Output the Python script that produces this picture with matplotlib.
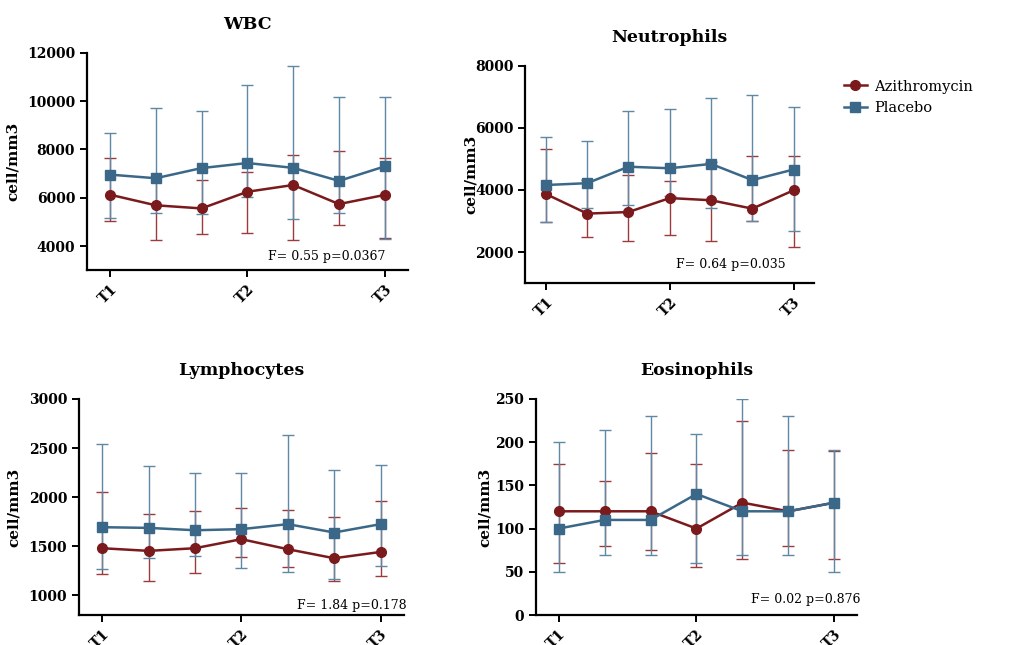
import matplotlib
matplotlib.use("Agg")
import matplotlib.pyplot as plt
from matplotlib.lines import Line2D

# time points (7 visits, only T1/T2/T3 labelled)
visits = [0, 1, 2, 3, 4, 5, 6]
tick_pos = [0, 3, 6]
tick_labels = ["T1", "T2", "T3"]

# WBC
wbc_azi = [6130, 5690, 5560, 6250, 6530, 5740, 6120]
wbc_azi_lo = [5050, 4250, 4520, 4530, 4250, 4880, 4350]
wbc_azi_hi = [7630, 6850, 6740, 7060, 7760, 7950, 7630]
wbc_pla = [6960, 6810, 7230, 7440, 7240, 6700, 7300]
wbc_pla_lo = [5180, 5380, 5320, 6020, 5140, 5380, 4280]
wbc_pla_hi = [8690, 9700, 9590, 10650, 11460, 10190, 10190]

# Neutrophils
neu_azi = [3870, 3240, 3290, 3740, 3670, 3400, 3990]
neu_azi_lo = [2960, 2500, 2370, 2550, 2350, 3000, 2160]
neu_azi_hi = [5320, 4330, 4480, 4280, 4900, 5090, 5090]
neu_pla = [4160, 4220, 4750, 4700, 4840, 4320, 4660]
neu_pla_lo = [2980, 3410, 3520, 3810, 3410, 3000, 2690]
neu_pla_hi = [5720, 5570, 6530, 6620, 6960, 7060, 6670]

# Lymphocytes
lym_azi = [1480, 1453, 1480, 1572, 1470, 1378, 1442]
lym_azi_lo = [1218, 1150, 1225, 1395, 1293, 1150, 1194]
lym_azi_hi = [2051, 1830, 1857, 1891, 1871, 1793, 1959]
lym_pla = [1694, 1687, 1663, 1674, 1725, 1640, 1725]
lym_pla_lo = [1269, 1385, 1405, 1282, 1235, 1170, 1303]
lym_pla_hi = [2537, 2313, 2242, 2245, 2636, 2279, 2330]

# Eosinophils
eos_azi = [120, 120, 120, 100, 130, 120, 130]
eos_azi_lo = [60, 80, 75, 55, 65, 80, 65]
eos_azi_hi = [175, 155, 188, 175, 225, 191, 190]
eos_pla = [100, 110, 110, 140, 120, 120, 130]
eos_pla_lo = [50, 70, 70, 60, 70, 70, 50]
eos_pla_hi = [200, 214, 230, 210, 250, 230, 191]

red = "#7a1a1c"
blue = "#3b6888"
red_err = "#9c3a3e"
blue_err = "#5d88a6"

plt.rcParams["font.family"] = "DejaVu Serif"

fig = plt.figure(figsize=(10.28, 6.45), dpi=100)

panels = [
    ("WBC", [0.0846, 0.581, 0.312, 0.337], (3000, 12000), [4000, 6000, 8000, 10000, 12000],
     wbc_azi, wbc_azi_lo, wbc_azi_hi, wbc_pla, wbc_pla_lo, wbc_pla_hi,
     "F= 0.55 p=0.0367", (0.93, 0.065), -0.209),
    ("Neutrophils", [0.511, 0.561, 0.281, 0.337], (1000, 8000), [2000, 4000, 6000, 8000],
     neu_azi, neu_azi_lo, neu_azi_hi, neu_pla, neu_pla_lo, neu_pla_hi,
     "F= 0.64 p=0.035", (0.90, 0.088), -0.163),
    ("Lymphocytes", [0.0768, 0.0465, 0.316, 0.335], (800, 3000), [1000, 1500, 2000, 2500, 3000],
     lym_azi, lym_azi_lo, lym_azi_hi, lym_pla, lym_pla_lo, lym_pla_hi,
     "F= 1.84 p=0.178", (1.01, 0.046), -0.18),
    ("Eosinophils", [0.521, 0.0465, 0.313, 0.335], (0, 250), [0, 50, 100, 150, 200, 250],
     eos_azi, eos_azi_lo, eos_azi_hi, eos_pla, eos_pla_lo, eos_pla_hi,
     "F= 0.02 p=0.876", (1.01, 0.07), -0.137),
]

for (title, rect, ylim, yticks, a, alo, ahi, p, plo, phi, note, npos, labx) in panels:
    ax = fig.add_axes(rect)
    a_err = [[m - l for m, l in zip(a, alo)], [h - m for m, h in zip(a, ahi)]]
    p_err = [[m - l for m, l in zip(p, plo)], [h - m for m, h in zip(p, phi)]]
    ax.errorbar(visits, a, yerr=a_err, fmt="none", ecolor=red_err, elinewidth=1.0,
                capsize=4, capthick=1.0, zorder=2)
    ax.errorbar(visits, p, yerr=p_err, fmt="none", ecolor=blue_err, elinewidth=1.0,
                capsize=4, capthick=1.0, zorder=3)
    ax.plot(visits, a, color=red, lw=1.8, marker="o", ms=7, zorder=4)
    ax.plot(visits, p, color=blue, lw=1.8, marker="s", ms=7, zorder=5)

    ax.set_xlim(-0.5, 6.5)
    ax.set_ylim(*ylim)
    ax.set_yticks(yticks)
    ax.set_xticks(tick_pos)
    ax.set_xticklabels(tick_labels, rotation=45, ha="right", rotation_mode="anchor")
    for lab in ax.get_xticklabels() + ax.get_yticklabels():
        lab.set_fontweight("bold")
        lab.set_fontsize(10)
    ax.spines["top"].set_visible(False)
    ax.spines["right"].set_visible(False)
    ax.spines["left"].set_linewidth(1.6)
    ax.spines["bottom"].set_linewidth(1.6)
    ax.tick_params(width=1.4, length=5)
    ax.set_ylabel("cell/mm3", fontsize=11, fontweight="bold")
    ax.yaxis.set_label_coords(labx, 0.5)
    ax.set_title(title, fontsize=12.5, fontweight="bold", pad=17)
    ax.text(npos[0], npos[1], note, transform=ax.transAxes, ha="right", va="center",
            fontsize=9)

handles = [
    Line2D([], [], color=red, lw=1.8, marker="o", ms=7),
    Line2D([], [], color=blue, lw=1.8, marker="s", ms=7),
]
fig.legend(handles, ["Azithromycin", "Placebo"], loc="upper left",
           bbox_to_anchor=(0.808, 0.897), frameon=False, fontsize=10.5,
           handlelength=1.6, handletextpad=0.5, labelspacing=0.5)

fig.savefig("out.png", dpi=100)
